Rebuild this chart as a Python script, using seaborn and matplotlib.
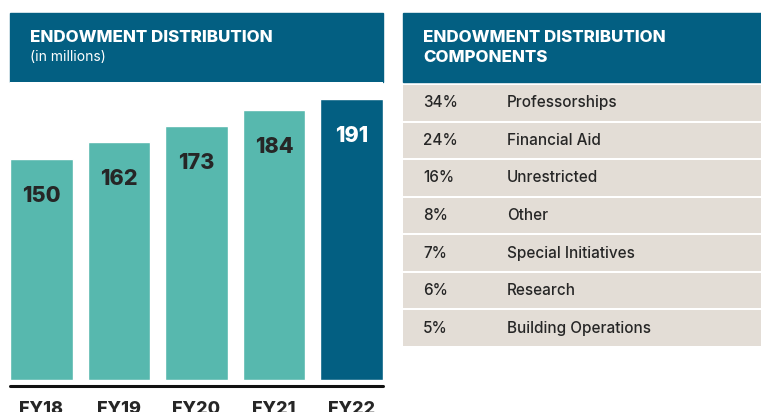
import matplotlib
matplotlib.use("Agg")
import matplotlib.pyplot as plt
from matplotlib.patches import Rectangle
import seaborn as sns
import pandas as pd

# ============================
# DATA
# ============================
years = ["FY18", "FY19", "FY20", "FY21", "FY22"]
distribution = [150, 162, 173, 184, 191]

shares = ["34%", "24%", "16%", "8%", "7%", "6%", "5%"]
components = ["Professorships", "Financial Aid", "Unrestricted", "Other",
              "Special Initiatives", "Research", "Building Operations"]

# ============================
# STYLE
# ============================
NAVY = "#035F82"
TEAL = "#57B8AE"
BEIGE = "#E3DDD6"
DARK = "#262626"

sns.set_theme(style="white")
plt.rcParams["font.family"] = ["Inter", "DejaVu Sans"]

W, H = 761, 412
fig = plt.figure(figsize=(W / 100, H / 100), dpi=100)
fig.patch.set_facecolor("white")


def fx(px):
    return px / W


def fy(py):
    return 1 - py / H


# ============================
# LEFT: BAR CHART
# ============================
px_per_unit = 1.47
zero_px = 380
ax_top, ax_bot = 82, 387
ax = fig.add_axes([fx(10), fy(ax_bot), fx(383 - 10), (ax_bot - ax_top) / H])

df = pd.DataFrame({"year": years, "value": distribution})
colors = {y: TEAL for y in years}
colors[years[-1]] = NAVY
sns.barplot(data=df, x="year", y="value", hue="year", palette=colors,
            legend=False, width=0.81, saturation=1, ax=ax)

ax.set_xlim(-0.405, 4.405)
ax.set_ylim(-(ax_bot - zero_px) / px_per_unit, (zero_px - ax_top) / px_per_unit)
ax.axhline(-(385.7 - zero_px) / px_per_unit, color="#111111", lw=2.2, clip_on=False)
for s in ax.spines.values():
    s.set_visible(False)
ax.set_yticks([])
ax.set_xlabel("")
ax.set_ylabel("")
ax.tick_params(axis="x", length=0, pad=10)
for lbl in ax.get_xticklabels():
    lbl.set_fontsize(13)
    lbl.set_fontweight("heavy")
    lbl.set_color(DARK)

for i, v in enumerate(distribution):
    ax.text(i, v - 37 / px_per_unit, str(v), ha="center", va="center",
            fontsize=15.5, fontweight="heavy",
            color="white" if i == len(distribution) - 1 else DARK)

# header box
fig.add_artist(Rectangle((fx(10), fy(82)), fx(373), (82 - 13) / H,
                         transform=fig.transFigure, color=NAVY, zorder=0))
fig.text(fx(30), fy(38), "ENDOWMENT DISTRIBUTION", color="white",
         fontsize=12.2, fontweight="heavy", va="center", ha="left")
fig.text(fx(30), fy(57), "(in millions)", color="white",
         fontsize=10, va="center", ha="left")

# ============================
# RIGHT: COMPONENTS TABLE
# ============================
fig.add_artist(Rectangle((fx(403), fy(82)), fx(W - 403), (82 - 13) / H,
                         transform=fig.transFigure, color=NAVY, zorder=0))
fig.text(fx(423), fy(38), "ENDOWMENT DISTRIBUTION", color="white",
         fontsize=12.2, fontweight="heavy", va="center", ha="left")
fig.text(fx(423), fy(57), "COMPONENTS", color="white",
         fontsize=12.2, fontweight="heavy", va="center", ha="left")

tab = fig.add_axes([fx(403), fy(347), fx(W - 403), (347 - 84) / H])
tab.set_xlim(0, 1)
tab.set_ylim(len(components) - 0.5, -0.5)
for i, (pct, name) in enumerate(zip(shares, components)):
    tab.axhspan(i - 0.473, i + 0.473, color=BEIGE, lw=0)
    tab.text(0.056, i, pct, fontsize=11, fontweight="medium",
             color=DARK, va="center", ha="left")
    tab.text(0.29, i, name, fontsize=11, fontweight="medium",
             color=DARK, va="center", ha="left")
tab.axis("off")

fig.savefig("out.png", dpi=100)
